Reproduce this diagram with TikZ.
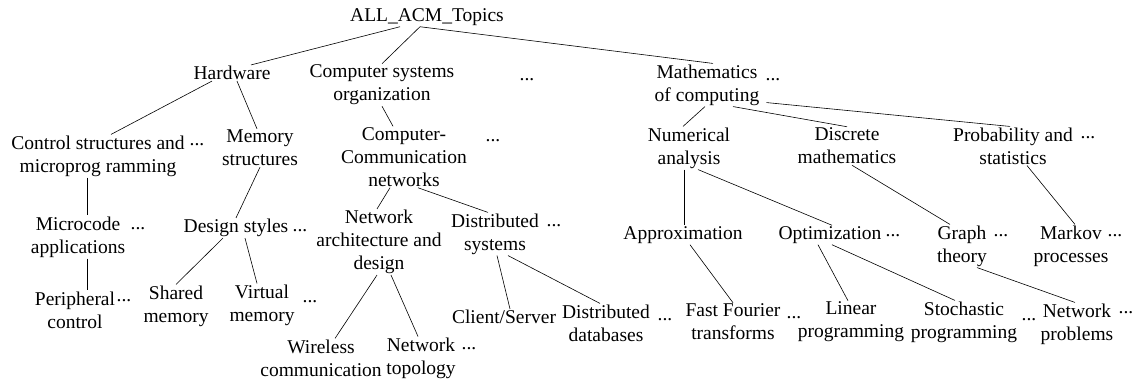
\documentclass[tikz,border=0pt]{standalone}
\usepackage{fontspec}
\setmainfont{Liberation Serif}
\usepackage{tikz}

\begin{document}
\begin{tikzpicture}[x=1pt, y=-1pt,
  topic/.style={align=center, inner sep=1pt, font=\fontsize{19.5}{23}\selectfont},
  more/.style={inner sep=0pt, font=\fontsize{19.5}{23}\selectfont},
  link/.style={line width=0.6pt}]
  \useasboundingbox (0,0) rectangle (1136,385);

  % Root and first level
  \node[topic] (all) at (427, 17) {ALL\_ACM\_Topics};
  \node[topic] (hw) at (232, 73) {Hardware};
  \node[topic] (cso) at (382, 85) {Computer systems\\organization};
  \node[more] (dotsA) at (527, 80) {...};
  \node[topic] (math) at (707, 85) {Mathematics\\of computing};
  \node[more] (dotsM) at (773, 80) {...};

  % Second level
  \node[topic] (csm) at (98, 156) {Control structures and\\microprog ramming};
  \node[more] (dotsC) at (197, 145) {...};
  \node[topic] (mem) at (260, 148) {Memory\\structures};
  \node[topic] (ccn) at (404, 157) {Computer-\\Communication\\networks};
  \node[more] (dotsN) at (493, 141) {...};
  \node[topic] (num) at (689, 148) {Numerical\\analysis};
  \node[topic] (disc) at (847, 146) {Discrete\\mathematics};
  \node[topic] (prob) at (1013, 146) {Probability and\\statistics};
  \node[more] (dotsP) at (1088, 138) {...};

  % Third level
  \node[topic] (micro) at (78, 237) {Microcode\\applications};
  \node[more] (dotsMc) at (138, 229) {...};
  \node[topic] (ds) at (236, 228) {Design styles};
  \node[more] (dotsD) at (300, 231) {...};
  \node[topic] (na) at (379, 242) {Network\\architecture and\\design};
  \node[topic] (dist) at (495, 234) {Distributed\\systems};
  \node[more] (dotsS) at (554, 226) {...};
  \node[topic] (approx) at (683, 235) {Approximation};
  \node[topic] (opt) at (830, 235) {Optimization};
  \node[more] (dotsO) at (893, 236) {...};
  \node[topic] (graph) at (962, 246) {Graph\\theory};
  \node[more] (dotsG) at (1001, 236) {...};
  \node[topic] (markov) at (1071, 246) {Markov\\processes};
  \node[more] (dotsK) at (1115, 236) {...};

  % Leaves
  \node[topic] (peri) at (75, 310) {Peripheral\\control};
  \node[more] (dotsR) at (124, 301) {...};
  \node[topic] (shared) at (176, 306) {Shared\\memory};
  \node[topic] (virt) at (262, 305) {Virtual\\memory};
  \node[more] (dotsV) at (310, 302) {...};
  \node[topic] (cs) at (504, 317) {Client/Server};
  \node[topic] (ddb) at (606, 323) {Distributed\\databases};
  \node[more] (dotsB) at (665, 320) {...};
  \node[topic] (fft) at (733, 322) {Fast Fourier\\transforms};
  \node[more] (dotsF) at (794, 318) {...};
  \node[topic] (lin) at (851, 322) {Linear\\programming};
  \node[topic] (sto) at (964, 322) {Stochastic\\programming};
  \node[more] (dotsT) at (1029, 320) {...};
  \node[topic] (netp) at (1077, 324) {Network\\problems};
  \node[more] (dotsW) at (1126, 313) {...};
  \node[topic] (wire) at (321, 358) {Wireless\\communication};
  \node[topic] (topo) at (421, 358) {Network\\topology};
  \node[more] (dotsY) at (469, 349) {...};

  % Connectors
  \draw[link] ([xshift=-27pt]all.south) -- ([xshift=19pt]hw.north);
  \draw[link] ([xshift=-7pt]all.south) -- (cso.north);
  \draw[link] ([xshift=-7pt]all.south) -- ([xshift=6pt]math.north);
  \draw[link] ([xshift=-20pt]hw.south) -- ([xshift=13pt]csm.north);
  \draw[link] ([xshift=5pt]hw.south) -- ([xshift=-3pt]mem.north);
  \draw[link] (cso.south) -- ([xshift=-11pt]ccn.north);
  \draw[link] ([xshift=-2pt]math.south) -- ([xshift=-6pt]num.north);
  \draw[link] ([xshift=26pt]math.south) -- (disc.north);
  \draw[link] ([xshift=6pt, yshift=4pt]math.south east) -- ([xshift=-3pt]prob.north);
  \draw[link] ([xshift=-11pt]csm.south) -- ([xshift=9pt]micro.north);
  \draw[link] (mem.south) -- (ds.north);
  \draw[link] ([xshift=9pt]micro.south) -- ([xshift=12pt]peri.north);
  \draw[link] ([xshift=-13pt]ds.south) -- (shared.north);
  \draw[link] ([xshift=9pt]ds.south) -- ([xshift=-5pt]virt.north);
  \draw[link] ([xshift=-14pt]ccn.south) -- ([xshift=-2pt]na.north);
  \draw[link] ([xshift=14pt]ccn.south) -- ([xshift=-7pt]dist.north);
  \draw[link] ([xshift=-2pt]na.south) -- ([xshift=14pt]wire.north);
  \draw[link] ([xshift=12pt]na.south) -- ([xshift=-3pt]topo.north);
  \draw[link] ([xshift=2pt]dist.south) -- ([xshift=6pt]cs.north);
  \draw[link] ([xshift=13pt]dist.south) -- ([xshift=-6pt]ddb.north);
  \draw[link] ([xshift=-5pt]num.south) -- ([xshift=1pt]approx.north);
  \draw[link] ([xshift=9pt]num.south) -- ([xshift=2pt]opt.north);
  \draw[link] ([xshift=7pt]approx.south) -- (fft.north);
  \draw[link] ([xshift=-12pt]opt.south) -- ([xshift=-3pt]lin.north);
  \draw[link] ([xshift=2pt]opt.south) -- ([xshift=-9pt]sto.north);
  \draw[link] ([xshift=5pt]disc.south) -- ([xshift=-12pt]graph.north);
  \draw[link] ([xshift=14pt]prob.south) -- ([xshift=4pt]markov.north);
  \draw[link] ([xshift=15pt]graph.south) -- ([xshift=-2pt]netp.north);
\end{tikzpicture}
\end{document}
